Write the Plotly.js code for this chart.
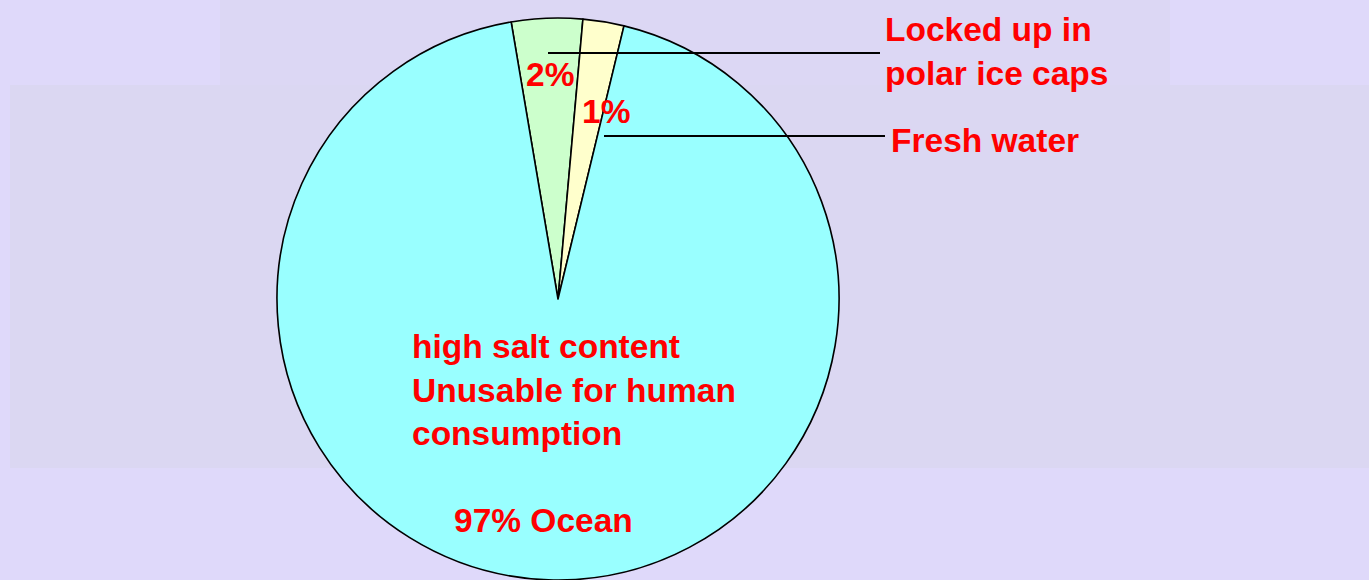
<!DOCTYPE html>
<html>
<head>
<meta charset="utf-8">
<script src="https://cdn.plot.ly/plotly-3.0.1.min.js"></script>
<style>html,body{margin:0;padding:0;background:#DFD9FA;}#chart{width:1369px;height:580px;}</style>
</head>
<body>
<div id="chart"></div>
<script>
// Data (slice sizes follow the drawn wedges)
const categories = ["Locked up in polar ice caps", "Fresh water", "Ocean"];
const values = [4.08, 2.36, 93.56];
const sliceColors = ["#CCFFCC", "#FFFFCC", "#99FFFF"];
const sliceLabels = ["2%", "1%", "97% Ocean"];
const calloutLabels = ["Locked up in<br>polar ice caps", "Fresh water"];
const oceanNote = "high salt content<br>Unusable for human<br>consumption";

const W = 1369, H = 580;
const px = x => x / W;
const py = y => 1 - y / H;

const cx = 558, cy = 299, r = 281;

const trace = {
  type: "pie",
  labels: categories,
  values: values,
  sort: false,
  direction: "clockwise",
  rotation: -9.6,
  textinfo: "none",
  hoverinfo: "label+percent",
  marker: { colors: sliceColors, line: { color: "#000000", width: 1.6 } },
  domain: { x: [px(cx - r), px(cx + r)], y: [py(cy + r), py(cy - r)] },
  showlegend: false
};

const redFont = { family: "Liberation Sans, Arial, sans-serif", size: 33.5, color: "#FF0000", weight: "bold" };

const annotations = [
  { text: "<b>" + sliceLabels[0] + "</b>", x: px(550), y: py(75), xanchor: "center", yanchor: "middle" },
  { text: "<b>" + sliceLabels[1] + "</b>", x: px(606), y: py(112), xanchor: "center", yanchor: "middle" },
  { text: "<b>" + sliceLabels[2] + "</b>", x: px(452), y: py(520), xanchor: "left", yanchor: "middle" },
  { text: "<b>" + oceanNote + "</b>", x: px(410), y: py(390), xanchor: "left", yanchor: "middle", align: "left" },
  { text: "<b>" + calloutLabels[0] + "</b>", x: px(883), y: py(51), xanchor: "left", yanchor: "middle", align: "left" },
  { text: "<b>" + calloutLabels[1] + "</b>", x: px(889), y: py(140), xanchor: "left", yanchor: "middle", align: "left" }
].map(a => Object.assign({ xref: "paper", yref: "paper", showarrow: false, font: redFont }, a));

const shapes = [
  { type: "rect", xref: "paper", yref: "paper", x0: px(220), x1: px(1170), y0: py(0), y1: py(85),
    fillcolor: "#DCD7F4", line: { width: 0 }, layer: "below" },
  { type: "rect", xref: "paper", yref: "paper", x0: px(10), x1: px(1369), y0: py(85), y1: py(468),
    fillcolor: "#DBD7F2", line: { width: 0 }, layer: "below" },
  { type: "line", xref: "paper", yref: "paper", x0: px(548), x1: px(880), y0: py(53), y1: py(53),
    line: { color: "#000000", width: 2 } },
  { type: "line", xref: "paper", yref: "paper", x0: px(604), x1: px(885), y0: py(136), y1: py(136),
    line: { color: "#000000", width: 2 } }
];

const layout = {
  width: W, height: H,
  margin: { l: 0, r: 0, t: 0, b: 0 },
  paper_bgcolor: "#DFD9FA",
  plot_bgcolor: "rgba(0,0,0,0)",
  annotations: annotations,
  shapes: shapes
};

Plotly.newPlot("chart", [trace], layout, { displayModeBar: false, staticPlot: true });
</script>
</body>
</html>
